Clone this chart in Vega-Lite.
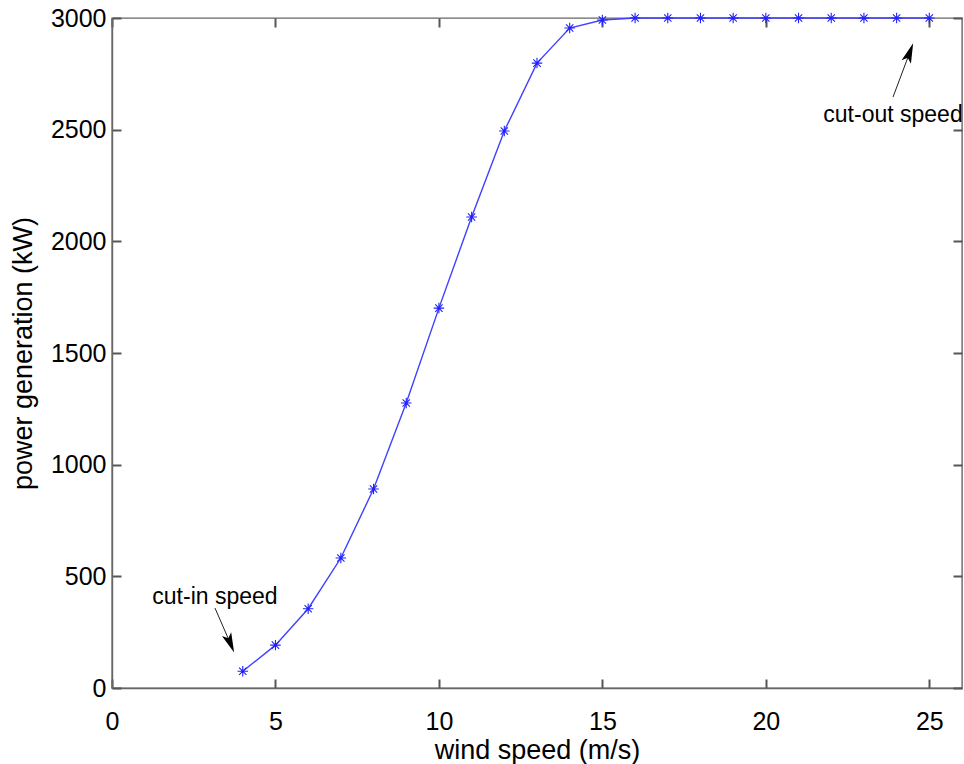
{
  "$schema": "https://vega.github.io/schema/vega-lite/v6.json",
  "autosize": "none",
  "width": 850,
  "height": 670,
  "padding": {"left": 112, "top": 18, "right": 2, "bottom": 76},
  "background": "white",
  "config": {
    "font": "Liberation Sans",
    "view": {"stroke": "#666666", "strokeWidth": 1.4},
    "axis": {
      "grid": false,
      "ticks": true,
      "tickSize": -9,
      "tickColor": "#555555",
      "tickWidth": 2,
      "domainColor": "#666666",
      "domainWidth": 1.4,
      "labelFlush": false,
      "labelFontSize": 25,
      "labelColor": "black",
      "titleFontSize": 27,
      "titleFontWeight": "normal",
      "titleColor": "black",
      "labelFont": "Liberation Sans",
      "titleFont": "Liberation Sans"
    }
  },
  "datasets": {
    "power": [
      {"wind": 4, "kw": 75},
      {"wind": 5, "kw": 192},
      {"wind": 6, "kw": 355},
      {"wind": 7, "kw": 582},
      {"wind": 8, "kw": 891},
      {"wind": 9, "kw": 1276},
      {"wind": 10, "kw": 1701},
      {"wind": 11, "kw": 2109},
      {"wind": 12, "kw": 2494},
      {"wind": 13, "kw": 2798},
      {"wind": 14, "kw": 2955},
      {"wind": 15, "kw": 2991},
      {"wind": 16, "kw": 3000},
      {"wind": 17, "kw": 3000},
      {"wind": 18, "kw": 3000},
      {"wind": 19, "kw": 3000},
      {"wind": 20, "kw": 3000},
      {"wind": 21, "kw": 3000},
      {"wind": 22, "kw": 3000},
      {"wind": 23, "kw": 3000},
      {"wind": 24, "kw": 3000},
      {"wind": 25, "kw": 3000}
    ],
    "notes": [
      {"label": "cut-in speed", "tx": 3.15, "ty": 407, "x1": 3.15, "y1": 358, "x2": 3.62, "y2": 200, "angle": 157.7},
      {"label": "cut-out speed", "tx": 23.89, "ty": 2566, "x1": 23.89, "y1": 2646, "x2": 24.40, "y2": 2845, "angle": 20.3}
    ]
  },
  "layer": [
    {
      "data": {"name": "power"},
      "mark": {"type": "line", "color": "#4040ff", "strokeWidth": 1.4},
      "encoding": {
        "x": {"field": "wind", "type": "quantitative", "scale": {"domain": [0, 26], "nice": false}, "axis": {"orient": "bottom", "values": [0, 5, 10, 15, 20, 25], "format": "d", "ticks": true, "tickSize": -9, "title": "wind speed (m/s)", "labelPadding": 30, "titlePadding": 3}},
        "y": {"field": "kw", "type": "quantitative", "scale": {"domain": [0, 3000], "nice": false}, "axis": {"orient": "left", "values": [0, 500, 1000, 1500, 2000, 2500, 3000], "format": "d", "ticks": true, "tickSize": -9, "title": "power generation (kW)", "labelPadding": 15, "titlePadding": 13}}
      }
    },
    {
      "data": {"name": "power"},
      "mark": {"type": "point", "filled": false, "stroke": "#2020ff", "strokeWidth": 1.1, "size": 110, "opacity": 1,
        "shape": "M0,-1L0,1M-1,0L1,0M-0.7,-0.7L0.7,0.7M-0.7,0.7L0.7,-0.7"},
      "encoding": {
        "x": {"field": "wind", "type": "quantitative", "axis": null},
        "y": {"field": "kw", "type": "quantitative", "axis": null}
      }
    },
    {
      "data": {"name": "power"},
      "mark": {"type": "point", "opacity": 0},
      "encoding": {
        "x": {"field": "wind", "type": "quantitative", "axis": {"orient": "top", "values": [0, 5, 10, 15, 20, 25], "ticks": true, "tickSize": -9, "labels": false, "title": null, "domain": false}},
        "y": {"field": "kw", "type": "quantitative", "axis": {"orient": "right", "values": [0, 500, 1000, 1500, 2000, 2500, 3000], "ticks": true, "tickSize": -9, "labels": false, "title": null, "domain": false}}
      }
    },
    {
      "data": {"name": "notes"},
      "mark": {"type": "rule", "color": "#222222", "strokeWidth": 1},
      "encoding": {
        "x": {"field": "x1", "type": "quantitative", "axis": null},
        "y": {"field": "y1", "type": "quantitative", "axis": null},
        "x2": {"field": "x2"},
        "y2": {"field": "y2"}
      }
    },
    {
      "data": {"name": "notes"},
      "mark": {"type": "point", "filled": true, "color": "black", "opacity": 1, "size": 400,
        "shape": "M0,-1L0.5,1L0,0.55L-0.5,1Z"},
      "encoding": {
        "x": {"field": "x2", "type": "quantitative", "axis": null},
        "y": {"field": "y2", "type": "quantitative", "axis": null},
        "angle": {"field": "angle", "type": "quantitative", "scale": null}
      }
    },
    {
      "data": {"name": "notes"},
      "mark": {"type": "text", "fontSize": 23, "font": "Liberation Sans", "color": "black", "align": "center", "baseline": "middle"},
      "encoding": {
        "x": {"field": "tx", "type": "quantitative", "axis": null},
        "y": {"field": "ty", "type": "quantitative", "axis": null},
        "text": {"field": "label"}
      }
    }
  ],
  "resolve": {"axis": {"x": "independent", "y": "independent"}}
}
